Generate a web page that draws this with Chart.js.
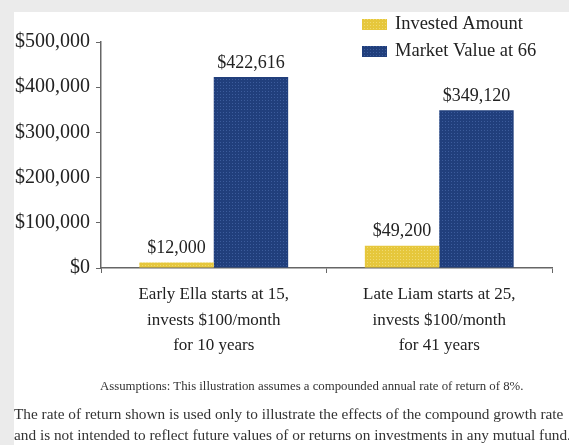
<!DOCTYPE html>
<html>
<head>
<meta charset="utf-8">
<script src="https://cdn.jsdelivr.net/npm/chart.js@4.4.0/dist/chart.umd.min.js"></script>
<style>
  body { margin: 0; background: #ebebeb; width: 569px; height: 445px; overflow: hidden; position: relative; }
  #panel { position: absolute; left: 14px; top: 12px; right: 0; bottom: 0; background: #fff; }
  #mycanvas { position: absolute; left: 0; top: 0; }
  .note { position: absolute; font-family: "Liberation Serif", serif; color: #333; white-space: nowrap; }
  #note1 { left: 100px; top: 379px; font-size: 12.8px; }
  #note2 { left: 14px; top: 405px; font-size: 15.3px; }
  #note3 { left: 14px; top: 426px; font-size: 15.3px; }
</style>
</head>
<body>
<div id="panel"></div>
<canvas id="mycanvas" width="569" height="445"></canvas>
<div class="note" id="note1">Assumptions: This illustration assumes a compounded annual rate of return of 8%.</div>
<div class="note" id="note2">The rate of return shown is used only to illustrate the effects of the compound growth rate</div>
<div class="note" id="note3">and is not intended to reflect future values of or returns on investments in any mutual fund.</div>
<script>
var categories = [
  ["Early Ella starts at 15,", "invests $100/month", "for 10 years"],
  ["Late Liam starts at 25,", "invests $100/month", "for 41 years"]
];
var seriesNames = ["Invested Amount", "Market Value at 66"];
var investedAmount = [12000, 49200];
var marketValue = [422616, 349120];
var yTicks = [0, 100000, 200000, 300000, 400000, 500000];

var font = '"Liberation Serif", serif';

function dotted(c1, c2) {
  var p = document.createElement('canvas');
  p.width = 3; p.height = 3;
  var g = p.getContext('2d');
  g.fillStyle = c1; g.fillRect(0, 0, 3, 3);
  g.fillStyle = c2; g.fillRect(1, 1, 1, 1);
  return document.getElementById('mycanvas').getContext('2d').createPattern(p, 'repeat');
}
var yellow = dotted('#e6c73c', '#f0da70');
var blue = dotted('#213f7c', '#3c5c9c');

function money(v) {
  return '$' + v.toLocaleString('en-US');
}

var valueLabels = {
  id: 'valueLabels',
  afterDatasetsDraw: function(chart) {
    var ctx = chart.ctx;
    ctx.save();
    ctx.font = '18px ' + font;
    ctx.fillStyle = '#222';
    ctx.textAlign = 'center';
    ctx.textBaseline = 'bottom';
    chart.data.datasets.forEach(function(ds, i) {
      chart.getDatasetMeta(i).data.forEach(function(bar, j) {
        ctx.fillText(money(ds.data[j]), bar.x, bar.y - 5);
      });
    });
    ctx.restore();
  }
};

var boxLegend = {
  id: 'boxLegend',
  afterDraw: function(chart) {
    var ctx = chart.ctx;
    ctx.save();
    ctx.font = '18.5px ' + font;
    ctx.textBaseline = 'middle';
    chart.data.datasets.forEach(function(ds, i) {
      var y = 24 + i * 27;
      ctx.fillStyle = ds.backgroundColor;
      ctx.fillRect(362, y - 5, 25, 11);
      ctx.fillStyle = '#222';
      ctx.fillText(ds.label, 395, y);
    });
    ctx.restore();
  }
};

var ctx = document.getElementById('mycanvas');
var myChart = new Chart(ctx, {
  type: 'bar',
  data: {
    labels: categories,
    datasets: [
      { label: seriesNames[0], data: investedAmount, backgroundColor: yellow },
      { label: seriesNames[1], data: marketValue, backgroundColor: blue }
    ]
  },
  options: {
    responsive: false,
    animation: false,
    categoryPercentage: 0.66,
    barPercentage: 1.0,
    layout: { padding: { left: 0, right: 17, top: 42, bottom: 0 } },
    plugins: {
      legend: { display: false },
      tooltip: { enabled: false }
    },
    scales: {
      x: {
        afterFit: function(s) { s.height = 177; },
        grid: { offset: true, drawOnChartArea: false, tickLength: 5, color: '#666' },
        border: { color: '#666', width: 1.5 },
        ticks: {
          color: '#222',
          padding: 9,
          maxRotation: 0,
          font: { family: font, size: 17, lineHeight: 1.5 }
        }
      },
      y: {
        min: 0,
        max: 500000,
        afterFit: function(s) { s.width = 101; },
        afterBuildTicks: function(s) { s.ticks = yTicks.map(function(v) { return { value: v }; }); },
        grid: { drawOnChartArea: false, tickLength: 5, color: '#666' },
        border: { color: '#666', width: 1.5 },
        ticks: {
          color: '#222',
          padding: 6,
          font: { family: font, size: 20 },
          callback: function(v) { return money(v); }
        }
      }
    }
  },
  plugins: [valueLabels, boxLegend]
});
</script>
</body>
</html>
